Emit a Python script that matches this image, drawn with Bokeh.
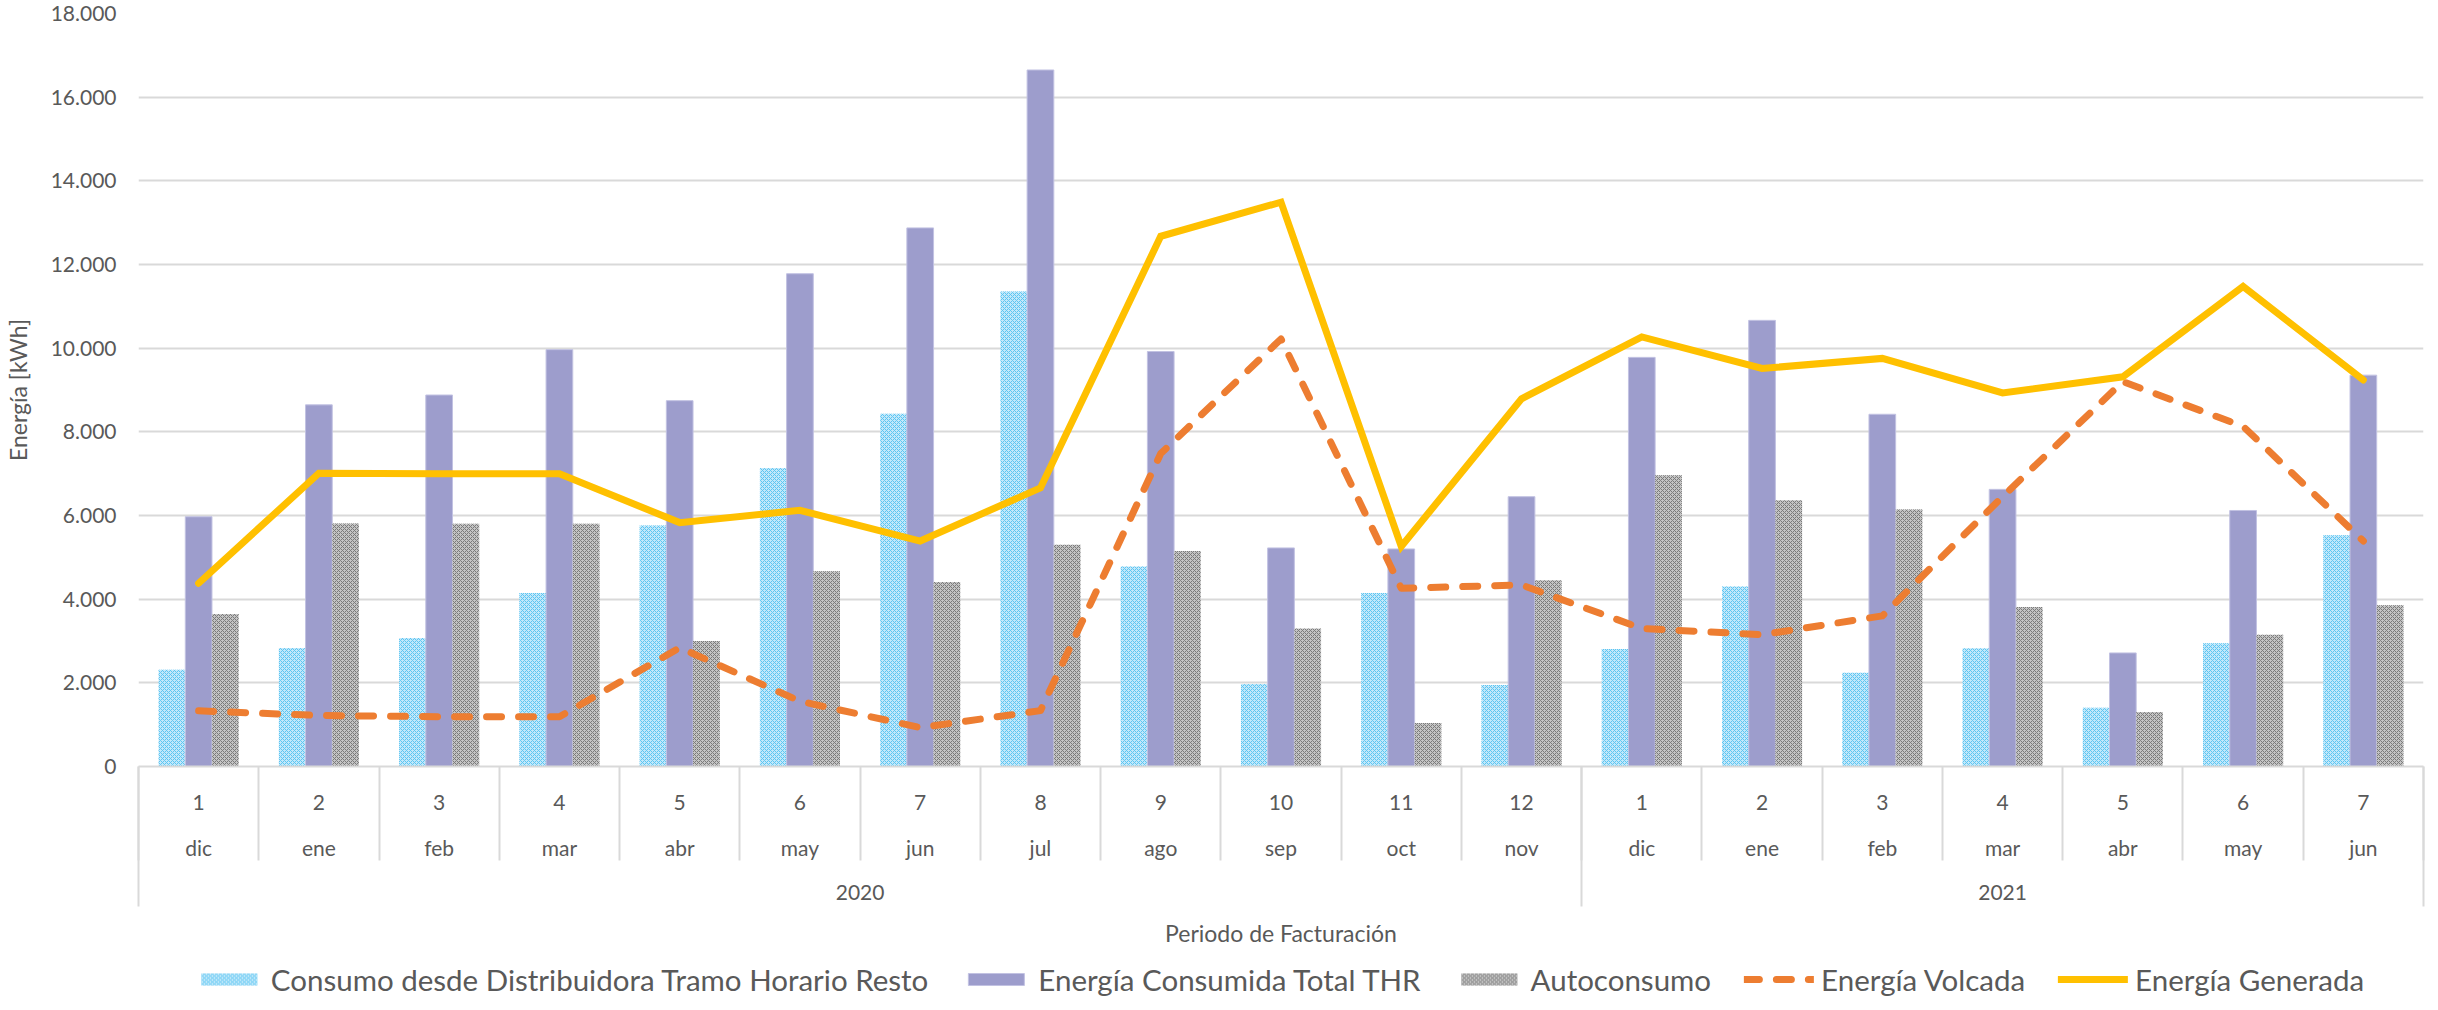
from bokeh.plotting import figure
from bokeh.layouts import column
from bokeh.models import (ColumnDataSource, FactorRange, Range1d, FixedTicker,
                          Legend, LegendItem, CategoricalAxis)
from bokeh.transform import dodge
from bokeh.embed import file_html
from bokeh.resources import INLINE

# ---------------- data ----------------
years = ["2020"] * 12 + ["2021"] * 7
months = ["dic", "ene", "feb", "mar", "abr", "may", "jun", "jul", "ago", "sep", "oct", "nov",
          "dic", "ene", "feb", "mar", "abr", "may", "jun"]
periods = [str(i) for i in range(1, 13)] + [str(i) for i in range(1, 8)]

consumo_distribuidora = [2310, 2830, 3070, 4145, 5760, 7135, 8430, 11355, 4780, 1970,
                         4150, 1950, 2810, 4300, 2240, 2825, 1405, 2945, 5525]
energia_consumida_total = [5970, 8645, 8880, 9965, 8745, 11780, 12875, 16650, 9920, 5225,
                           5200, 6450, 9780, 10665, 8420, 6625, 2715, 6120, 9355]
autoconsumo = [3645, 5810, 5800, 5800, 3000, 4665, 4410, 5300, 5150, 3300,
               1040, 4450, 6960, 6365, 6145, 3815, 1300, 3150, 3855]
energia_volcada = [1330, 1220, 1190, 1190, 2840, 1560, 930, 1335, 7480, 10220,
                   4260, 4340, 3300, 3150, 3600, 6450, 9200, 8130, 5390]
energia_generada = [4380, 7010, 7000, 7000, 5830, 6125, 5390, 6660, 12675, 13490,
                    5260, 8790, 10270, 9515, 9755, 8930, 9315, 11475, 9240]

y_ticks = [0, 2000, 4000, 6000, 8000, 10000, 12000, 14000, 16000, 18000]
y_tick_labels = ["0", "2.000", "4.000", "6.000", "8.000", "10.000", "12.000",
                 "14.000", "16.000", "18.000"]

series_names = ["Consumo desde Distribuidora Tramo Horario Resto",
                "Energía Consumida Total THR", "Autoconsumo",
                "Energía Volcada", "Energía Generada"]

# ---------------- style ----------------
FONT = "Lato"
TEXT = "#595959"
GRID = "#D9D9D9"
CONS_STYLE = dict(fill_color="#C2E8FA", line_color=None, hatch_pattern="diagonal_cross",
                  hatch_color="#5BC5F2", hatch_scale=4, hatch_weight=1)
TOTAL_STYLE = dict(fill_color="#9D9DCC", line_color="#C2C2E2", line_width=1)
AUTO_STYLE = dict(fill_color="#C4C4C4", line_color=None, hatch_pattern="diagonal_cross",
                  hatch_color="#7A7A7A", hatch_scale=4, hatch_weight=1)
VOLC_STYLE = dict(line_color="#ED7D31", line_width=7, line_dash="15 17",
                  line_cap="round", line_join="round")
GEN_STYLE = dict(line_color="#FFC000", line_width=7, line_cap="round", line_join="miter")

factors = list(zip(years, months, periods))
n = len(factors)
src = ColumnDataSource(dict(x=factors, consumo=consumo_distribuidora,
                            total=energia_consumida_total, auto=autoconsumo,
                            volcada=energia_volcada, generada=energia_generada))

x_range = FactorRange(factors=factors, range_padding=0, factor_padding=0,
                      subgroup_padding=0, group_padding=0)
p = figure(x_range=x_range, y_range=Range1d(y_ticks[0], y_ticks[-1]),
           frame_width=2285, frame_height=753,
           output_backend="svg", toolbar_location=None,
           min_border_left=135, min_border_right=2, min_border_top=13,
           min_border_bottom=196)
p.outline_line_color = None
p.xgrid.grid_line_color = None
p.ygrid.grid_line_color = GRID
p.ygrid.grid_line_width = 2

BW = 0.222
p.vbar(x=dodge('x', -BW, range=x_range), top='consumo', width=BW, source=src, **CONS_STYLE)
p.vbar(x='x', top='total', width=BW, source=src, **TOTAL_STYLE)
p.vbar(x=dodge('x', BW, range=x_range), top='auto', width=BW, source=src, **AUTO_STYLE)
p.line(x='x', y='volcada', source=src, **VOLC_STYLE)
p.line(x='x', y='generada', source=src, **GEN_STYLE)

# ---------------- axes ----------------
yax = p.yaxis[0]
yax.ticker = FixedTicker(ticks=y_ticks)
yax.major_label_overrides = {t: l for t, l in zip(y_ticks, y_tick_labels)}
yax.axis_line_color = None
yax.major_tick_line_color = None
yax.minor_tick_line_color = None
yax.major_tick_out = 0
yax.major_tick_in = 0
yax.major_label_standoff = 22
yax.major_label_text_font = FONT
yax.major_label_text_font_size = "21px"
yax.major_label_text_color = TEXT
yax.axis_label = "Energía [kWh]"
yax.axis_label_text_font = FONT
yax.axis_label_text_font_size = "23px"
yax.axis_label_text_font_style = "normal"
yax.axis_label_text_color = TEXT
yax.axis_label_standoff = 16

xax = p.xaxis[0]
xax.axis_line_color = GRID
xax.axis_line_width = 2
xax.major_tick_line_color = None
xax.separator_line_color = None
xax.major_label_standoff = 22
for pre in ("major_label_", "group_", "subgroup_"):
    setattr(xax, pre + "text_font", FONT)
    setattr(xax, pre + "text_font_size", "21px")
    setattr(xax, pre + "text_color", TEXT)
    setattr(xax, pre + "text_font_style", "normal")
xax.axis_label = "Periodo de Facturación"
xax.axis_label_text_font = FONT
xax.axis_label_text_font_size = "23px"
xax.axis_label_text_font_style = "normal"
xax.axis_label_text_color = TEXT
xax.axis_label_standoff = 16

# ---------------- category separators (label-less axes, ticks drawn outward) ----------------
EDGE_PAD = -0.4995  # factor centres land on the category edges (kept just inside the range)
month_sep_range = FactorRange(factors=["b%d" % i for i in range(n + 1)],
                              range_padding=EDGE_PAD, range_padding_units="absolute",
                              factor_padding=0)
year_change = [i for i in range(1, n) if years[i] != years[i - 1]][0]
year_sep_range = FactorRange(factors=[("a", "a", "s"), ("b", "b", "m"), ("b", "c", "e")],
                             range_padding=EDGE_PAD, range_padding_units="absolute",
                             factor_padding=0, group_padding=year_change - 1,
                             subgroup_padding=n - year_change - 1)
p.extra_x_ranges = {"msep": month_sep_range, "ysep": year_sep_range}


def sep_axis(range_name, depth):
    return CategoricalAxis(x_range_name=range_name, axis_line_color=None,
                           major_tick_in=-depth, major_tick_out=0,
                           major_tick_line_color=GRID, major_tick_line_width=2,
                           major_label_text_font_size="0px", major_label_text_color=None,
                           major_label_standoff=0, separator_line_color=None,
                           group_text_font_size="0px", group_text_color=None,
                           subgroup_text_font_size="0px", subgroup_text_color=None)


p.below = [sep_axis("msep", 94), sep_axis("ysep", 140)] + list(p.below)

# ---------------- legend (own strip below the chart) ----------------
lg = figure(width=2422, height=34, x_range=Range1d(0, 1), y_range=Range1d(0, 1),
            output_backend="svg", toolbar_location=None,
            x_axis_location=None, y_axis_location=None,
            min_border_left=0, min_border_right=0, min_border_top=0, min_border_bottom=0)
lg.outline_line_color = None
lg.grid.visible = False
NAN = [float("nan")]  # legend-only proxies: nothing is drawn in the strip itself
legend_renderers = [
    lg.vbar(x=NAN, top=NAN, width=0.1, **CONS_STYLE),
    lg.vbar(x=NAN, top=NAN, width=0.1, **TOTAL_STYLE),
    lg.vbar(x=NAN, top=NAN, width=0.1, **AUTO_STYLE),
    lg.line(x=NAN, y=NAN, **VOLC_STYLE),
    lg.line(x=NAN, y=NAN, **GEN_STYLE),
]
legend = Legend(items=[LegendItem(label=nm, renderers=[r]) for nm, r in
                       zip(series_names, legend_renderers)],
                orientation="horizontal", location="center", margin=0, padding=0,
                spacing=33, label_standoff=7, glyph_width=70, glyph_height=15,
                label_text_font=FONT, label_text_font_size="29.5px",
                label_text_color=TEXT, border_line_color=None,
                background_fill_alpha=0)
lg.add_layout(legend, "center")

layout = column(p, lg, spacing=0)
open("out.html", "w").write(file_html(layout, INLINE))
